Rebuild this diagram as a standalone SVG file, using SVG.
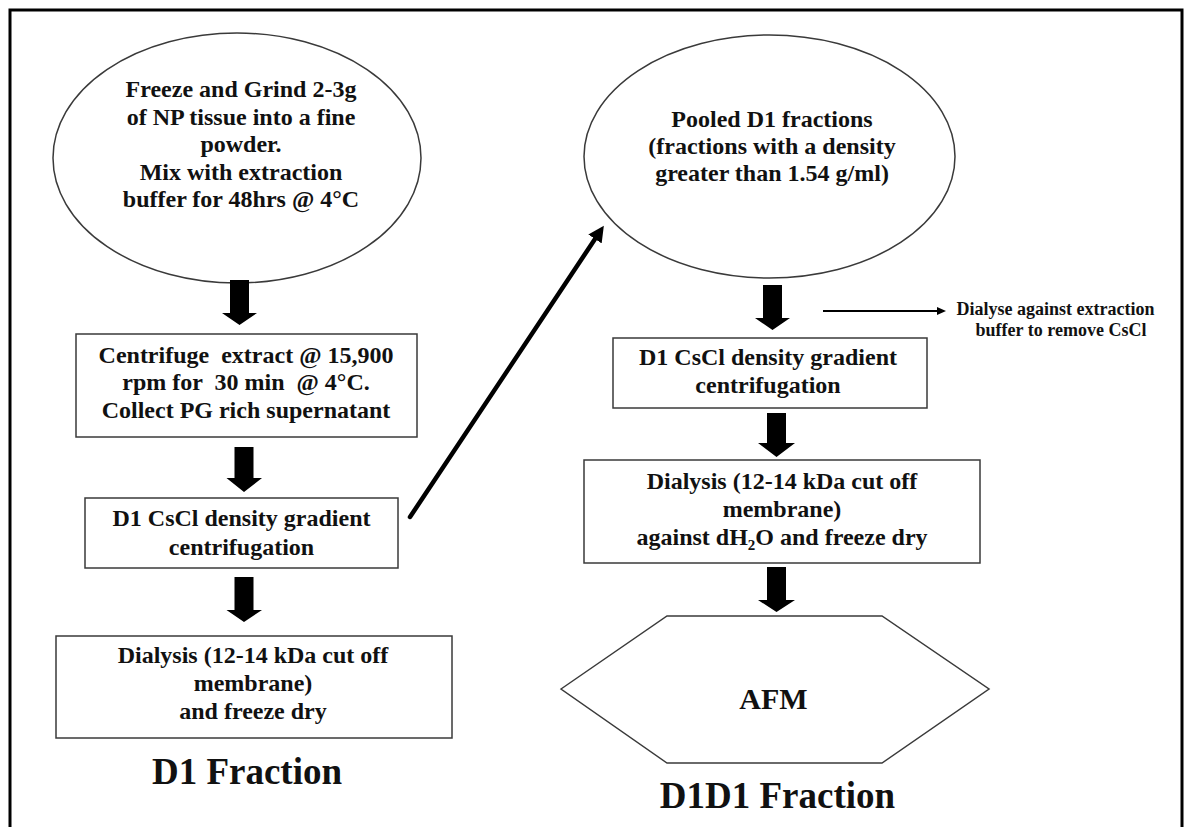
<svg xmlns="http://www.w3.org/2000/svg" width="1187" height="827" viewBox="0 0 1187 827">
<style>
.shape{fill:#fff;stroke:#3a3a3a;stroke-width:1.5}
.t{font-family:"Liberation Serif","Times New Roman",serif;font-weight:bold;fill:#111;text-anchor:middle;white-space:pre}
.m{font-size:24px}
.s{font-size:18px}
.big{font-size:37px}
.blk{fill:#000}
</style>
<defs>
<marker id="ah" markerUnits="userSpaceOnUse" markerWidth="17" markerHeight="16" refX="0" refY="8" orient="auto"><path d="M0,0 L16,8 L0,16 z" fill="#000"/></marker>
<marker id="ahs" markerUnits="userSpaceOnUse" markerWidth="10" markerHeight="8" refX="0" refY="4" orient="auto"><path d="M0,0 L9,4 L0,8 z" fill="#000"/></marker>
</defs>
<rect width="1187" height="827" fill="#fff"/>
<path d="M10,840 V10 H1182 V840" fill="none" stroke="#000" stroke-width="3"/>

<g id="n1">
<ellipse class="shape" cx="237" cy="158" rx="184" ry="125"/>
<text class="t m" x="241" y="97">Freeze and Grind 2-3g</text>
<text class="t m" x="241" y="124.5">of NP tissue into a fine</text>
<text class="t m" x="241" y="152">powder.</text>
<text class="t m" x="241" y="179.5">Mix with extraction</text>
<text class="t m" x="241" y="207">buffer for 48hrs @ 4°C</text>
</g>

<g id="n2">
<rect class="shape" x="76" y="334" width="341" height="103"/>
<text class="t m" x="246" y="362.5">Centrifuge  extract @ 15,900</text>
<text class="t m" x="246" y="390">rpm for  30 min  @ 4°C.</text>
<text class="t m" x="246" y="417.5">Collect PG rich supernatant</text>
</g>

<g id="n3">
<rect class="shape" x="85" y="498" width="313" height="70"/>
<text class="t m" x="241.5" y="526">D1 CsCl density gradient</text>
<text class="t m" x="241.5" y="555">centrifugation</text>
</g>

<g id="n4">
<rect class="shape" x="56" y="636" width="396" height="102"/>
<text class="t m" x="253" y="663">Dialysis (12-14 kDa cut off</text>
<text class="t m" x="253" y="691">membrane)</text>
<text class="t m" x="253" y="719">and freeze dry</text>
</g>

<g id="label1">
<text class="t big" x="247" y="784">D1 Fraction</text>
</g>

<g id="n5">
<ellipse class="shape" cx="769.5" cy="156.5" rx="185.5" ry="121.5"/>
<text class="t m" x="772" y="127">Pooled D1 fractions</text>
<text class="t m" x="772" y="154">(fractions with a density</text>
<text class="t m" x="772" y="181">greater than 1.54 g/ml)</text>
</g>

<g id="n6">
<text class="t s" x="1055.5" y="315">Dialyse against extraction</text>
<text class="t s" x="1061" y="336">buffer to remove CsCl</text>
</g>

<g id="n7">
<rect class="shape" x="613" y="338" width="314" height="70"/>
<text class="t m" x="768" y="365">D1 CsCl density gradient</text>
<text class="t m" x="768" y="393">centrifugation</text>
</g>

<g id="n8">
<rect class="shape" x="584" y="460" width="396" height="103"/>
<text class="t m" x="782" y="489">Dialysis (12-14 kDa cut off</text>
<text class="t m" x="782" y="517">membrane)</text>
<text class="t m" x="782" y="545">against dH<tspan font-size="15" dy="5">2</tspan><tspan dy="-5">O and freeze dry</tspan></text>
</g>

<g id="n9">
<polygon class="shape" points="561,689 667,616 882,616 989,689 882,763 667,763"/>
<text class="t" font-size="30" x="773.5" y="709">AFM</text>
</g>

<g id="label2">
<text class="t big" x="777.5" y="808">D1D1 Fraction</text>
</g>

<g id="connectors">
<polygon class="blk" points="230,280 249,280 249,313 257,313 239.5,325 222,313 230,313"/>
<polygon class="blk" points="234.5,447 253.5,447 253.5,478 262,478 244,492 226.5,478 234.5,478"/>
<polygon class="blk" points="234.5,577 253.5,577 253.5,610 262,610 244,622 226.5,610 234.5,610"/>
<polygon class="blk" points="763,285 782,285 782,318 790,318 772.5,330 755,318 763,318"/>
<polygon class="blk" points="767,413 786,413 786,443 795,443 776.5,457 758,443 767,443"/>
<polygon class="blk" points="767,567 786,567 786,600 795,600 776.5,612 758,600 767,600"/>
<line x1="410" y1="517" x2="595" y2="239" stroke="#000" stroke-width="4.5" stroke-linecap="round" marker-end="url(#ah)"/>
<line x1="823" y1="311" x2="937" y2="311" stroke="#000" stroke-width="2" marker-end="url(#ahs)"/>
</g>
</svg>
